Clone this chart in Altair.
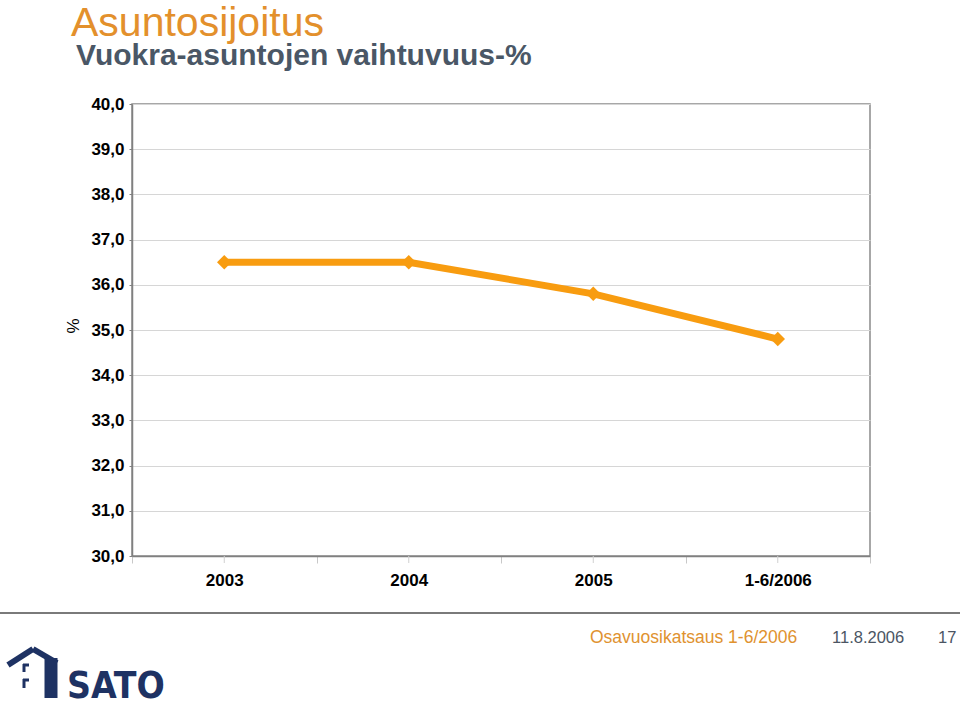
import altair as alt
import pandas as pd

# ---- data ----
categories = ["2003", "2004", "2005", "1-6/2006"]
values = [36.5, 36.5, 35.8, 34.8]
y_ticks = [30, 31, 32, 33, 34, 35, 36, 37, 38, 39, 40]

title_text = ["Asuntosijoitus"]
subtitle_text = ["Vuokra-asuntojen vaihtuvuus-%"]
axis_title_text = ["%"]
footer_orange = ["Osavuosikatsaus 1-6/2006"]
footer_date = ["11.8.2006"]
footer_page = ["17"]
logo_text = ["SATO"]

df = pd.DataFrame({"cat": categories, "val": values})

W, H = 738, 452
OX, OY = 132, 104  # plot origin on page
FONT = "Liberation Sans"
ORANGE = "#F89C10"
NAVY = "#1E3263"

xscale = alt.Scale(type="band", domain=categories, paddingInner=0, paddingOuter=0)
yscale = alt.Scale(domain=[30, 40], nice=False, zero=False)

x_enc = alt.X(
    "cat:N", sort=categories, scale=xscale, title=None,
    axis=alt.Axis(
        tickBand="extent", grid=False, tickSize=7, tickColor="#c8c8c8",
        domainColor="#808080", domainWidth=1.5, labelPadding=17,
        labelAngle=0, labelAlign="center", labelFont=FONT, labelFontSize=17,
        labelFontWeight="bold", labelColor="#000000",
    ),
)
y_enc = alt.Y(
    "val:Q", scale=yscale, title=None,
    axis=alt.Axis(
        values=y_ticks, grid=True, gridColor="#d6d6d6", gridWidth=1,
        tickSize=3, tickColor="#808080", domainColor="#808080", domainWidth=1.5,
        labelPadding=5, labelFont=FONT, labelFontSize=17, labelFontWeight="bold",
        labelColor="#000000",
        labelExpr="replace(format(datum.value, '.1f'), '.', ',')",
    ),
)

line = alt.Chart(df).mark_line(
    color=ORANGE, strokeWidth=7,
    point=alt.OverlayMarkDef(shape="diamond", size=210, filled=True, color=ORANGE, opacity=1),
).encode(x=x_enc, y=y_enc)

center_ticks = alt.Chart(df).mark_rule(color="#d0d0d0", strokeWidth=1).encode(
    x=alt.X("cat:N", sort=categories, scale=xscale),
    y=alt.value(H), y2=alt.value(H + 7),
)


def text_layer(txt, x, y, size, color, weight="normal", angle=0, align="left", baseline="alphabetic", font=FONT):
    kw = dict(fontSize=size, color=color, fontWeight=weight, align=align, baseline=baseline, font=font)
    if angle:
        kw["angle"] = angle
    return alt.Chart(pd.DataFrame({"t": txt})).mark_text(**kw).encode(
        x=alt.value(x - OX), y=alt.value(y - OY), text="t:N"
    )


title = text_layer(title_text, 71, 36, 41, "#E3902C")
subtitle = text_layer(subtitle_text, 76, 65, 30, "#4A5766", weight="bold")
ytitle = text_layer(axis_title_text, 74, 326, 17, "#000000", angle=270, align="center", baseline="middle")
f1 = text_layer(footer_orange, 590, 643, 17.5, "#E0922F")
f2 = text_layer(footer_date, 832, 643, 16.5, "#4B5563")
f3 = text_layer(footer_page, 938, 643, 16.5, "#4B5563")
logo = text_layer(logo_text, 67, 698, 37, NAVY, weight="bold",
                  font="DejaVu Sans Condensed, Liberation Sans Narrow, Liberation Sans")

one = pd.DataFrame({"k": [0]})


def seg(x1, y1, x2, y2, width, color, cap="butt"):
    return alt.Chart(one).mark_rule(color=color, strokeWidth=width, strokeCap=cap).encode(
        x=alt.value(x1 - OX), y=alt.value(y1 - OY),
        x2=alt.value(x2 - OX), y2=alt.value(y2 - OY),
    )


footer_line = seg(0, 613, 960, 613, 2, "#7a7a7a")
house = [
    seg(8, 665, 33, 649, 6, NAVY),
    seg(33, 649, 57, 663, 6, NAVY),
    seg(51, 658, 51, 698, 13, NAVY),
    seg(24, 664, 24, 672, 3, NAVY),
    seg(23, 665, 29, 665, 3, NAVY),
    seg(24, 679, 24, 688, 3, NAVY),
    seg(23, 680, 29, 680, 3, NAVY),
]

chart = alt.layer(
    center_ticks, line, title, subtitle, ytitle, footer_line, f1, f2, f3, logo, *house
).properties(
    width=W, height=H,
    autosize=alt.AutoSizeParams(type="none"),
    padding={"left": OX, "top": OY, "right": 960 - OX - W, "bottom": 708 - OY - H},
    background="white",
).configure_view(stroke="#8a8a8a", strokeWidth=1.5)

chart.save("out.html", embed_options={"renderer": "svg", "actions": False})
